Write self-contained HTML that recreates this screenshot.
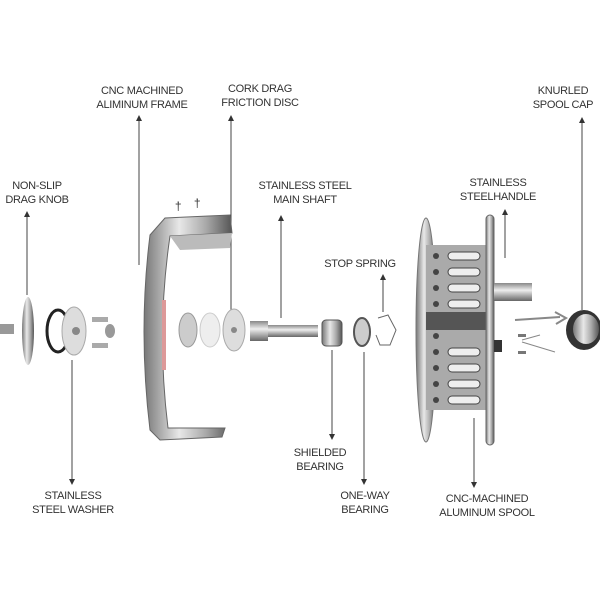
<!DOCTYPE html>
<html><head><style>
html,body{margin:0;padding:0;background:#fff;}
svg{display:block}
text{font-family:"Liberation Sans",sans-serif;font-size:11px;fill:#333;text-anchor:middle;letter-spacing:-0.3px}
.l{stroke:#444;stroke-width:1;fill:none}
</style></head><body>
<svg width="600" height="600" viewBox="0 0 600 600" xmlns="http://www.w3.org/2000/svg">
<defs>
<linearGradient id="m" x1="0" x2="1"><stop offset="0" stop-color="#777"/><stop offset=".4" stop-color="#e8e8e8"/><stop offset=".7" stop-color="#aaa"/><stop offset="1" stop-color="#555"/></linearGradient>
<linearGradient id="mv" x1="0" y1="0" x2="0" y2="1"><stop offset="0" stop-color="#888"/><stop offset=".4" stop-color="#eee"/><stop offset="1" stop-color="#666"/></linearGradient>
<marker id="a" markerWidth="6" markerHeight="6" refX="3" refY="3" orient="auto"><path d="M0,0 L6,3 L0,6 Z" fill="#333"/></marker>
</defs>
<!-- labels -->
<text x="142" y="94">CNC MACHINED</text><text x="142" y="108">ALIMINUM FRAME</text>
<text x="260" y="92">CORK DRAG</text><text x="260" y="106">FRICTION DISC</text>
<text x="563" y="94">KNURLED</text><text x="563" y="108">SPOOL CAP</text>
<text x="37" y="189">NON-SLIP</text><text x="37" y="203">DRAG KNOB</text>
<text x="305" y="189">STAINLESS STEEL</text><text x="305" y="203">MAIN SHAFT</text>
<text x="498" y="186">STAINLESS</text><text x="498" y="200">STEELHANDLE</text>
<text x="360" y="267">STOP SPRING</text>
<text x="320" y="456">SHIELDED</text><text x="320" y="470">BEARING</text>
<text x="365" y="499">ONE-WAY</text><text x="365" y="513">BEARING</text>
<text x="73" y="499">STAINLESS</text><text x="73" y="513">STEEL WASHER</text>
<text x="487" y="502">CNC-MACHINED</text><text x="487" y="516">ALUMINUM SPOOL</text>
<!-- leader lines -->
<line class="l" x1="139" y1="265" x2="139" y2="118" marker-end="url(#a)"/>
<line class="l" x1="231" y1="312" x2="231" y2="118" marker-end="url(#a)"/>
<line class="l" x1="582" y1="310" x2="582" y2="120" marker-end="url(#a)"/>
<line class="l" x1="27" y1="295" x2="27" y2="214" marker-end="url(#a)"/>
<line class="l" x1="281" y1="318" x2="281" y2="218" marker-end="url(#a)"/>
<line class="l" x1="505" y1="258" x2="505" y2="212" marker-end="url(#a)"/>
<line class="l" x1="383" y1="312" x2="383" y2="277" marker-end="url(#a)"/>
<line class="l" x1="332" y1="350" x2="332" y2="437" marker-end="url(#a)"/>
<line class="l" x1="364" y1="352" x2="364" y2="482" marker-end="url(#a)"/>
<line class="l" x1="72" y1="360" x2="72" y2="482" marker-end="url(#a)"/>
<line class="l" x1="474" y1="418" x2="474" y2="485" marker-end="url(#a)"/>
<!-- drag knob -->
<rect x="0" y="324" width="14" height="10" fill="#999"/>
<ellipse cx="28" cy="331" rx="6" ry="34" fill="url(#m)"/>
<!-- o-ring + washer -->
<ellipse cx="58" cy="331" rx="11" ry="21" fill="none" stroke="#222" stroke-width="3"/>
<ellipse cx="74" cy="331" rx="12" ry="24" fill="#ddd" stroke="#aaa"/>
<circle cx="76" cy="331" r="4" fill="#888"/>
<rect x="92" y="317" width="16" height="5" fill="#aaa"/><rect x="92" y="343" width="16" height="5" fill="#aaa"/>
<ellipse cx="110" cy="331" rx="5" ry="7" fill="#999"/>
<!-- frame -->
<path d="M150,235 Q138,331 150,430 L160,440 L222,437 L225,428 L168,428 Q156,331 170,236 L232,233 L230,215 L165,218 Z" fill="url(#m)" stroke="#666"/>
<path d="M170,236 L232,233 L230,248 L180,250 Z" fill="#bbb"/>
<rect x="162" y="300" width="4" height="70" fill="#d99"/>
<text x="178" y="210" style="font-size:12px">†</text><text x="197" y="207" style="font-size:12px">†</text>
<!-- discs -->
<ellipse cx="188" cy="330" rx="9" ry="17" fill="#ccc" stroke="#999"/>
<ellipse cx="210" cy="330" rx="10" ry="17" fill="#eee" stroke="#ccc"/>
<ellipse cx="234" cy="330" rx="11" ry="21" fill="#ddd" stroke="#aaa"/>
<circle cx="234" cy="330" r="3" fill="#888"/>
<!-- shaft -->
<rect x="250" y="321" width="18" height="20" fill="url(#mv)"/>
<rect x="268" y="325" width="50" height="12" fill="url(#mv)"/>
<!-- bearings -->
<rect x="322" y="320" width="20" height="26" rx="4" fill="url(#m)" stroke="#555"/>
<ellipse cx="362" cy="332" rx="8" ry="14" fill="#ccc" stroke="#555" stroke-width="2"/>
<path d="M378,318 L388,315 L396,330 L390,345 L380,345 L376,335" fill="none" stroke="#666"/>
<!-- spool -->
<ellipse cx="426" cy="330" rx="10" ry="112" fill="url(#m)" stroke="#777"/>
<rect x="426" y="245" width="60" height="165" fill="#aaa"/>
<g fill="#eee" stroke="#444">
<rect x="448" y="252" width="32" height="8" rx="4"/><rect x="448" y="268" width="32" height="8" rx="4"/>
<rect x="448" y="284" width="32" height="8" rx="4"/><rect x="448" y="300" width="32" height="8" rx="4"/>
<rect x="448" y="348" width="32" height="8" rx="4"/><rect x="448" y="364" width="32" height="8" rx="4"/>
<rect x="448" y="380" width="32" height="8" rx="4"/><rect x="448" y="396" width="32" height="8" rx="4"/>
</g>
<g fill="#444"><circle cx="436" cy="256" r="3"/><circle cx="436" cy="272" r="3"/><circle cx="436" cy="288" r="3"/><circle cx="436" cy="304" r="3"/><circle cx="436" cy="336" r="3"/><circle cx="436" cy="352" r="3"/><circle cx="436" cy="368" r="3"/><circle cx="436" cy="384" r="3"/><circle cx="436" cy="400" r="3"/></g>
<rect x="426" y="312" width="60" height="18" fill="#555"/>
<rect x="486" y="215" width="8" height="230" rx="4" fill="url(#m)" stroke="#666"/>
<rect x="494" y="283" width="38" height="18" fill="url(#mv)"/>
<rect x="494" y="340" width="8" height="12" fill="#333"/>
<!-- small parts -->
<path d="M515,320 L560,317 M555,312 L566,318 L556,324" stroke="#888" stroke-width="2" fill="none"/>
<path d="M522,340 L540,335 M522,342 L555,352" stroke="#888" fill="none"/>
<rect x="518" y="334" width="8" height="3" fill="#777"/><rect x="518" y="351" width="8" height="3" fill="#777"/>
<!-- spool cap -->
<ellipse cx="584" cy="330" rx="18" ry="20" fill="#333"/>
<ellipse cx="586" cy="329" rx="13" ry="15" fill="url(#m)"/>
</svg>
</body></html>
